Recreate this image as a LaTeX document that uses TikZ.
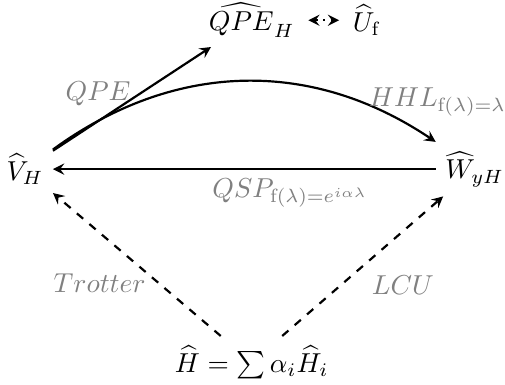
\documentclass[tikz,border=0pt]{standalone}
\usepackage{amsmath}
\begin{document}
\begin{tikzpicture}[>=stealth, line width=0.4pt,
  op/.style={inner sep=3.33pt},
  arr/.style={->, thick},
  dsh/.style={->, thick, dashed},
  lbl/.style={text=gray, inner sep=3pt}]
  \useasboundingbox (0,0) rectangle (6.48,4.93);
  % operators: block encodings and the Hamiltonian
  \node[op] (V) at (0.32,2.76) {$\widehat{V}_H$};
  \node[op] (W) at (6.09,2.76) {$\widehat{W}_{yH}$};
  \node[op] (H) at (3.23,0.28) {$\widehat{H}=\sum\alpha_i\widehat{H}_i$};
  \node[op] (QPE) at (3.23,4.67) {$\widehat{QPE}_H$};
  \node[op] (Uf) at (4.71,4.67) {$\widehat{U}_{\mathrm{f}}$};
  % connectors
  \draw[<->, thick, dotted, shorten >=1.5pt, shorten <=1.5pt] (QPE) -- (Uf);
  \draw[arr] (V) -- node[lbl, left, pos=0.55] (lqpe) {$QPE$} (QPE);
  \draw[arr] (V) to[bend left=35] node[lbl, right, pos=0.8] (lhhl) {$HHL_{\mathrm{f}(\lambda)=\lambda}$} (W);
  \draw[arr] (W) -- node[lbl, below, pos=0.38] (lqsp) {$QSP_{\mathrm{f}(\lambda)=e^{i\alpha\lambda}}$} (V);
  \draw[dsh] (H) -- node[lbl, below left, xshift=0.23cm] (ltrot) {$Trotter$} (V);
  \draw[dsh] (H) -- node[lbl, below right] (llcu) {$LCU$} (W);
\end{tikzpicture}
\end{document}
